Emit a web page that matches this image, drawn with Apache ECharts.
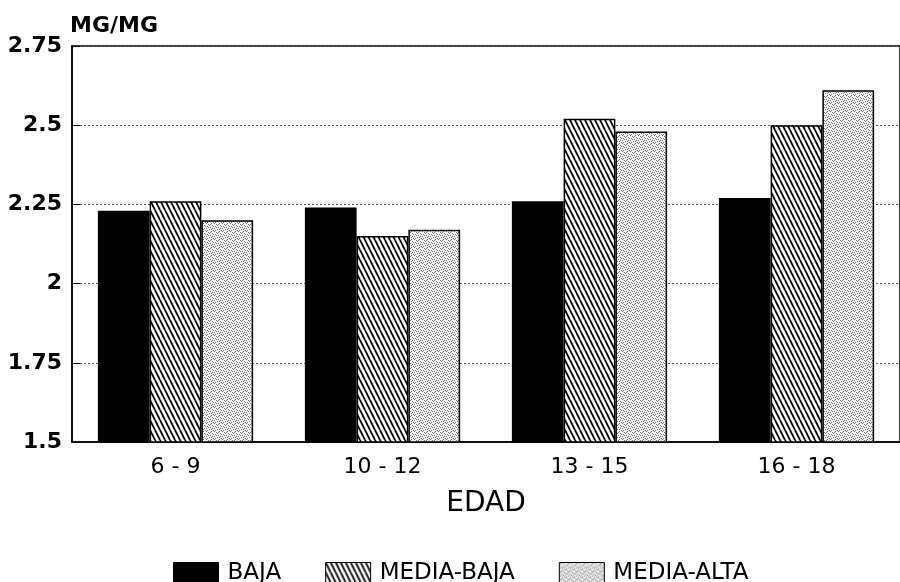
<!DOCTYPE html>
<html>
<head>
<meta charset="utf-8">
<script src="https://cdn.jsdelivr.net/npm/echarts@6/dist/echarts.min.js"></script>
<style>
html,body{margin:0;padding:0;background:#fff;}
#chart{width:900px;height:582px;}
</style>
</head>
<body>
<div id="chart"></div>
<script>
// ---- data ----
var categories = ['6 - 9', '10 - 12', '13 - 15', '16 - 18'];
var seriesNames = ['BAJA', 'MEDIA-BAJA', 'MEDIA-ALTA'];
var baja = [2.23, 2.24, 2.26, 2.27];
var mediaBaja = [2.26, 2.15, 2.52, 2.50];
var mediaAlta = [2.20, 2.17, 2.48, 2.61];
var yTicks = [1.5, 1.75, 2, 2.25, 2.5, 2.75];

// ---- patterns ----
function hatchPattern() {
  var c = document.createElement('canvas');
  c.width = 5; c.height = 10;
  var g = c.getContext('2d');
  g.fillStyle = '#fff'; g.fillRect(0, 0, 5, 10);
  g.strokeStyle = '#000'; g.lineWidth = 1.8;
  for (var k = -1; k <= 1; k++) {
    g.beginPath();
    g.moveTo(k * 5, 0);
    g.lineTo(k * 5 + 5, 10);
    g.stroke();
  }
  return c;
}
function dotPattern() {
  var c = document.createElement('canvas');
  c.width = 8; c.height = 8;
  var g = c.getContext('2d');
  g.fillStyle = '#f4f4f4'; g.fillRect(0, 0, 8, 8);
  g.fillStyle = '#707070';
  var pts = [[0,0],[4,1],[7,2],[2,3],[6,4],[1,5],[5,6],[3,7],[2,0],[6,7],[0,3],[4,4],[7,6],[5,2],[1,1],[3,5]];
  pts.forEach(function (p) { g.fillRect(p[0], p[1], 1, 1); });
  return c;
}

var fills = [
  '#000',
  { image: hatchPattern(), repeat: 'repeat' },
  { image: dotPattern(), repeat: 'repeat' }
];
var values = [baja, mediaBaja, mediaAlta];

var FONT = 'DejaVu Sans';
var chart = echarts.init(document.getElementById('chart'));
chart.setOption({
  animation: false,
  backgroundColor: '#fff',
  grid: {
    left: 72, top: 46, bottom: 140, right: -5,
    show: true, borderColor: '#000', borderWidth: 1.5, backgroundColor: '#fff'
  },
  legend: {
    left: 168, top: 557,
    icon: 'rect',
    itemWidth: 45, itemHeight: 22, itemGap: 44,
    textStyle: { fontFamily: FONT, fontSize: 23, color: '#000', padding: [2, 0, 0, 4] },
    itemStyle: { borderColor: '#000', borderWidth: 1 },
    data: seriesNames
  },
  xAxis: {
    type: 'category',
    data: categories,
    axisLine: { lineStyle: { color: '#000', width: 1.5 } },
    axisTick: { show: false },
    axisLabel: { fontFamily: FONT, fontSize: 22, color: '#000', margin: 14 },
    name: 'EDAD',
    nameLocation: 'middle',
    nameGap: 48,
    nameTextStyle: { fontFamily: FONT, fontSize: 28, color: '#000' }
  },
  yAxis: {
    type: 'value',
    min: yTicks[0], max: yTicks[yTicks.length - 1], interval: 0.25,
    axisLine: { show: true, lineStyle: { color: '#000', width: 1.5 } },
    axisTick: { show: true, inside: true, length: 8, lineStyle: { color: '#000' } },
    axisLabel: { fontFamily: FONT, fontSize: 22, fontWeight: 'bold', color: '#000', margin: 10 },
    splitLine: { show: true, lineStyle: { color: '#555', width: 1, type: [2, 2] } },
    name: 'MG/MG',
    nameLocation: 'end',
    nameGap: 9,
    nameTextStyle: { fontFamily: FONT, fontSize: 22, fontWeight: 'bold', color: '#000', align: 'left', padding: [0, 0, 0, -2] }
  },
  series: seriesNames.map(function (n, i) {
    return {
      name: n,
      type: 'bar',
      data: values[i],
      barWidth: '25%',
      barGap: '0%',
      barCategoryGap: '25%',
      itemStyle: { color: fills[i], borderColor: '#000', borderWidth: 1.5 }
    };
  })
});
</script>
</body>
</html>
